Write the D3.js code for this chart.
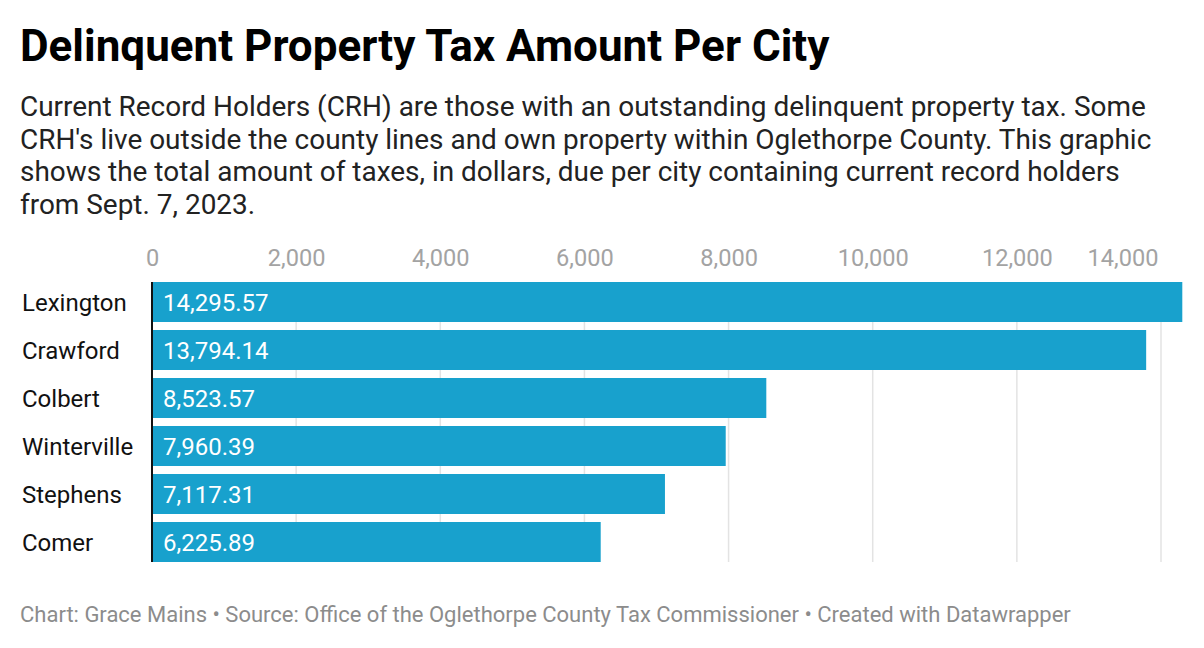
<!DOCTYPE html>
<html><head><meta charset="utf-8">
<script src="https://cdn.jsdelivr.net/npm/d3@7"></script>
<style>
body{margin:0;background:#fff;font-family:Roboto,sans-serif;}
</style></head>
<body><svg id="c" width="1204" height="648"></svg>
<script>
const categories = ["Lexington","Crawford","Colbert","Winterville","Stephens","Comer"];
const values = [14295.57,13794.14,8523.57,7960.39,7117.31,6225.89];
const ticks = [0,2000,4000,6000,8000,10000,12000,14000];
const title = "Delinquent Property Tax Amount Per City";
const subtitle = ["Current Record Holders (CRH) are those with an outstanding delinquent property tax. Some",
"CRH's live outside the county lines and own property within Oglethorpe County. This graphic",
"shows the total amount of taxes, in dollars, due per city containing current record holders",
"from Sept. 7, 2023."];
const footer = "Chart: Grace Mains • Source: Office of the Oglethorpe County Tax Commissioner • Created with Datawrapper";

const svg = d3.select("#c");
svg.append("text").attr("x",20).attr("y",61).attr("font-size",44).attr("font-weight",700)
  .attr("fill","#000").text(title);
svg.append("g").selectAll("text").data(subtitle).join("text")
  .attr("x",20).attr("y",(d,i)=>116+i*32.6).attr("font-size",27.95).attr("fill","#222").text(d=>d);

const x = d3.scaleLinear().domain([0,14000]).range([152,1161]);
const yb = d3.scaleBand().domain(categories).range([282,562]).paddingInner(1/6).paddingOuter(0);

svg.append("g").selectAll("line").data(ticks.slice(1)).join("line")
  .attr("x1",d=>x(d)).attr("x2",d=>x(d)).attr("y1",282).attr("y2",562)
  .attr("stroke","#e3e3e3").attr("stroke-width",1.5);

const ax = d3.axisTop(x).tickValues(ticks).tickSize(0).tickPadding(0).tickFormat(d3.format(","));
const axg = svg.append("g").attr("transform","translate(0,266)").call(ax);
axg.select(".domain").remove();
axg.selectAll("text").attr("font-family","Roboto").attr("font-size",23.6).attr("fill","#a3a3a3");
axg.selectAll(".tick").filter(d=>d===ticks[ticks.length-1]).select("text")
  .attr("text-anchor","end").attr("x",-3);

svg.append("g").selectAll("rect").data(values).join("rect")
  .attr("x",x(0)).attr("y",(d,i)=>yb(categories[i])).attr("height",yb.bandwidth())
  .attr("width",d=>x(d)-x(0)).attr("fill","#18a1cd");

svg.append("g").selectAll("text").data(values).join("text")
  .attr("x",x(0)+11).attr("y",(d,i)=>yb(categories[i])+yb.bandwidth()/2+8.5)
  .attr("font-size",24).attr("fill","#fff").text(d=>d3.format(",.2f")(d));

svg.append("g").selectAll("text").data(categories).join("text")
  .attr("x",22).attr("y",c=>yb(c)+yb.bandwidth()/2+8.5)
  .attr("font-size",24).attr("fill","#111").text(d=>d);

svg.append("line").attr("x1",x(0)).attr("x2",x(0)).attr("y1",282).attr("y2",562)
  .attr("stroke","#111").attr("stroke-width",2);

svg.append("text").attr("x",20).attr("y",622).attr("font-size",22).attr("fill","#8c8c8c").text(footer);
</script></body></html>
